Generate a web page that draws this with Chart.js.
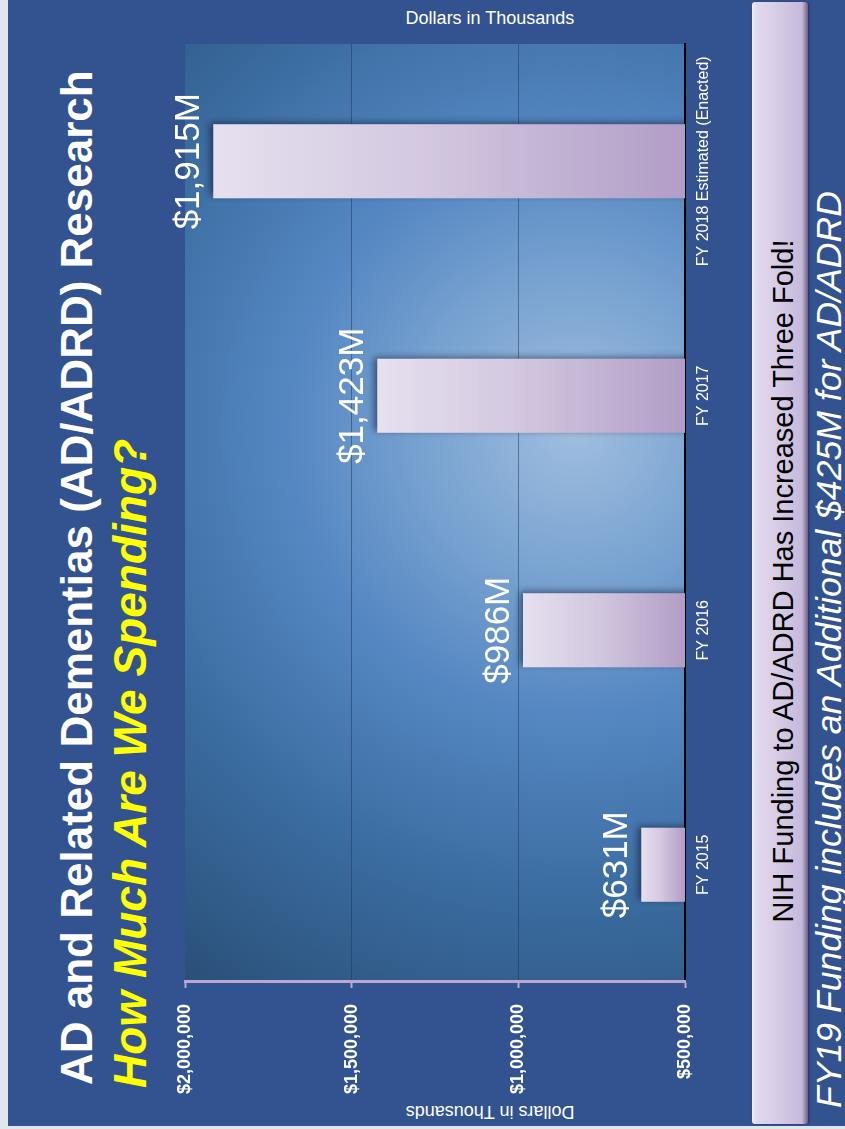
<!DOCTYPE html>
<html>
<head>
<meta charset="utf-8">
<script src="https://cdn.jsdelivr.net/npm/chart.js@4.4.1/dist/chart.umd.min.js"></script>
<style>
  html, body { margin: 0; padding: 0; background: #dfe6ef; overflow: hidden; }
  /* the slide is laid out landscape and turned a quarter turn */
  #stage {
    position: absolute; left: 0; top: 0;
    width: 1129px; height: 845px;
    transform-origin: 0 0;
    transform: translate(0, 1129px) rotate(-90deg);
    overflow: hidden;
    font-family: 'Liberation Sans', Arial, sans-serif;
    background: #dfe6ef;
  }
  #slide {
    position: absolute; left: 3px; top: 8px; width: 1126px; height: 837px;
    background: #32538f;
  }
  #chart { position: absolute; left: 0; top: 0; }
  .txt { position: absolute; white-space: nowrap; line-height: 1; }
  .title { left: 44px; top: 55px; font-size: 44px; font-weight: bold; color: #ffffff; }
  .sub { left: 41px; top: 107px; font-size: 46px; font-weight: bold; font-style: italic; color: #ffff00; }
  .axis-title {
    width: 220px; text-align: center; font-size: 18px; line-height: 20px; color: #ffffff;
  }
  .axis-title.left { left: -93px; top: 480px; transform: rotate(-90deg); }
  .axis-title.right { left: 1001px; top: 480px; transform: rotate(90deg); }
  .banner {
    position: absolute; left: 5px; top: 752px; width: 1122px; height: 56px;
    border-radius: 3px;
    background: linear-gradient(to bottom, #f3eff8 0px, #e2d9ee 4px, #d4c9e4 30px, #c6b8da 50px, #8c7ca0 54px, #6d607e 56px);
    box-shadow: 0 1px 2px rgba(20, 20, 40, 0.5);
  }
  .banner-text { left: 0; width: 1096px; top: 769px; text-align: center; font-size: 29px; color: #000000; }
  .note { left: 21px; top: 812px; font-size: 35.6px; font-style: italic; color: #ffffff; }
</style>
</head>
<body>
<div id="stage">
  <div id="slide"></div>
  <div class="txt title">AD and Related Dementias (AD/ADRD) Research</div>
  <div class="txt sub">How Much Are We Spending?</div>
  <div class="txt axis-title left">Dollars in Thousands</div>
  <div class="txt axis-title right">Dollars in Thousands</div>
  <div class="banner"></div>
  <div class="txt banner-text">NIH Funding to AD/ADRD Has Increased Three Fold!</div>
  <div class="txt note">FY19 Funding includes an Additional $425M for AD/ADRD</div>
  <canvas id="chart" width="1129" height="845"></canvas>
</div>
<script>
// NIH AD/ADRD funding, dollars in thousands
const years = ['FY 2015', 'FY 2016', 'FY 2017', 'FY 2018 Estimated (Enacted)'];
const funding = [631000, 986000, 1423000, 1915000];
const axisMin = 500000;
const axisMax = 2000000;
const axisStep = 500000;

const FONT = "'Liberation Sans', Arial, sans-serif";

function money(v) {
  return '$' + v.toLocaleString('en-US');
}

// radial glow behind the plot
const plotBackground = {
  id: 'plotBackground',
  beforeDraw(chart) {
    const { ctx, chartArea: a } = chart;
    const cx = a.left + a.width * 0.59;
    const cy = a.top + a.height * 0.78;
    const g = ctx.createRadialGradient(cx, cy, 0, cx, cy, 680);
    g.addColorStop(0, '#a0bedf');
    g.addColorStop(0.2, '#7ca5d2');
    g.addColorStop(0.42, '#5587c2');
    g.addColorStop(0.7, '#3a6b9f');
    g.addColorStop(1, '#2a4f78');
    ctx.save();
    ctx.fillStyle = g;
    ctx.fillRect(a.left, a.top, a.width, a.height);
    ctx.restore();
  }
};

// soft drop shadow under the bars
const barShadow = {
  id: 'barShadow',
  beforeDatasetsDraw(chart) {
    const ctx = chart.ctx;
    ctx.save();
    ctx.shadowColor = 'rgba(10, 20, 45, 0.55)';
    ctx.shadowBlur = 7;
    ctx.shadowOffsetX = 2;
    ctx.shadowOffsetY = -3;
  },
  afterDatasetsDraw(chart) {
    chart.ctx.restore();
  }
};

// "$631M" style labels above each bar
const valueLabels = {
  id: 'valueLabels',
  afterDatasetsDraw(chart) {
    const ctx = chart.ctx;
    const meta = chart.getDatasetMeta(0);
    ctx.save();
    ctx.fillStyle = '#ffffff';
    ctx.font = '35px ' + FONT;
    ctx.textAlign = 'center';
    ctx.textBaseline = 'alphabetic';
    meta.data.forEach((bar, i) => {
      const v = chart.data.datasets[0].data[i];
      ctx.fillText('$' + (v / 1000).toLocaleString('en-US') + 'M', bar.x, bar.y - 14);
    });
    ctx.restore();
  }
};

function barFill(context) {
  const chart = context.chart;
  const y = chart.scales.y;
  if (!y || context.type !== 'data') return '#d2c7e1';
  const top = y.getPixelForValue(context.raw);
  const base = y.getPixelForValue(axisMin);
  if (!isFinite(top) || !isFinite(base)) return '#d2c7e1';
  const g = chart.ctx.createLinearGradient(0, top, 0, base);
  g.addColorStop(0, '#e6e0ef');
  g.addColorStop(0.45, '#d3c8e0');
  g.addColorStop(1, '#b19dc6');
  return g;
}

const chart = new Chart(document.getElementById('chart'), {
  type: 'bar',
  data: {
    labels: years,
    datasets: [{
      data: funding,
      backgroundColor: barFill,
      borderWidth: 0,
      categoryPercentage: 1,
      barPercentage: 0.316
    }]
  },
  options: {
    responsive: false,
    devicePixelRatio: 1,
    animation: false,
    layout: { padding: { top: 185, left: 0, right: 44, bottom: 120 } },
    plugins: {
      legend: { display: false },
      tooltip: { enabled: false }
    },
    scales: {
      x: {
        z: 1,
        grid: { display: false, drawTicks: false },
        border: { display: true, color: '#000000', width: 2 },
        ticks: {
          color: '#ffffff',
          font: { family: FONT, size: 16 },
          padding: 9,
          maxRotation: 0
        },
        afterFit(scale) { scale.height = 40; }
      },
      y: {
        min: axisMin,
        max: axisMax,
        grid: {
          color: ctx => (ctx.tick && ctx.tick.value === axisMax) ? 'rgba(0,0,0,0)' : 'rgba(28, 52, 88, 0.5)',
          lineWidth: 1,
          tickColor: '#b8a8d2',
          tickLength: 6,
          tickWidth: 2
        },
        border: { display: true, color: '#b8a8d2', width: 3 },
        ticks: {
          stepSize: axisStep,
          color: '#ffffff',
          font: { family: FONT, size: 18, weight: 'bold' },
          padding: 16,
          callback: v => money(v)
        },
        afterFit(scale) { scale.width = 147; }
      }
    }
  },
  plugins: [plotBackground, barShadow, valueLabels]
});
// gradients need the laid-out scale, so resolve them once more
chart.update();
</script>
</body>
</html>
